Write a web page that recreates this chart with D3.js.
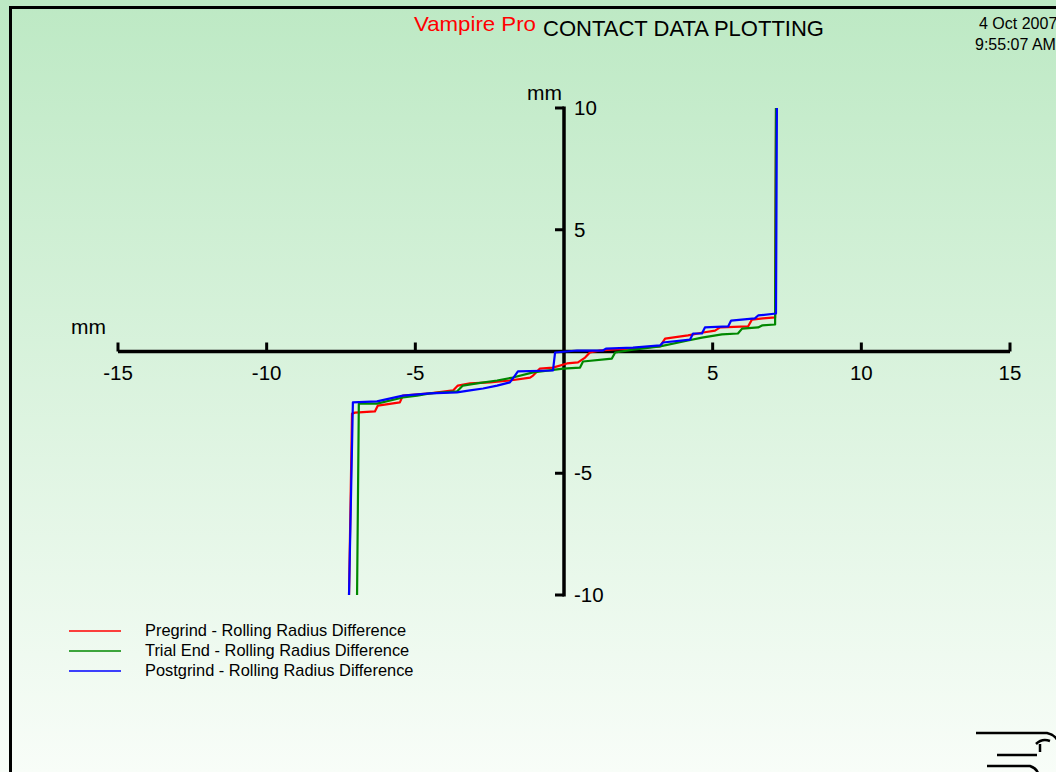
<!DOCTYPE html>
<html>
<head>
<meta charset="utf-8">
<script src="https://cdn.jsdelivr.net/npm/d3@7"></script>
<style>
  html, body { margin: 0; padding: 0; overflow: hidden; }
  body { width: 1056px; height: 772px; }
  svg { display: block; font-family: "Liberation Sans", Arial, sans-serif; }
</style>
</head>
<body>
<svg id="chart"></svg>
<script>
// values, in mm: [lateral shift, rolling radius difference]
const pregrind = [
  [-7.23, -10], [-7.13, -2.55], [-7.03, -2.51], [-6.36, -2.46], [-6.26, -2.22],
  [-5.52, -2.09], [-5.42, -1.81], [-4.51, -1.72], [-3.73, -1.60], [-3.57, -1.40],
  [-3.16, -1.31], [-2.49, -1.27], [-1.82, -1.19], [-1.14, -1.07], [-1.04, -0.99],
  [-0.81, -0.70], [-0.37, -0.66], [0.10, -0.49], [0.47, -0.45], [0.71, -0.25],
  [0.87, -0.04], [1.21, 0.04], [2.12, 0.12], [3.23, 0.21], [3.40, 0.53],
  [4.17, 0.66], [4.68, 0.78], [5.08, 0.86], [5.25, 0.99], [6.19, 1.03],
  [6.32, 1.31], [6.69, 1.36], [7.10, 1.40], [7.13, 10]
];
const trialEnd = [
  [-6.96, -10], [-6.90, -2.14], [-6.29, -2.14], [-5.42, -1.89], [-4.94, -1.81],
  [-4.51, -1.72], [-3.60, -1.64], [-3.40, -1.40], [-2.93, -1.31], [-2.25, -1.19],
  [-1.72, -1.07], [-1.04, -0.86], [-0.03, -0.70], [0.54, -0.66], [0.64, -0.41],
  [1.61, -0.29], [1.72, -0.04], [2.32, 0.08], [3.23, 0.21], [4.17, 0.45],
  [4.64, 0.57], [5.31, 0.70], [5.85, 0.74], [5.99, 0.94], [6.53, 0.99],
  [6.66, 1.07], [7.10, 1.11], [7.13, 10]
];
const postgrind = [
  [-7.23, -10], [-7.10, -2.09], [-6.29, -2.05], [-5.42, -1.81], [-4.51, -1.72],
  [-3.60, -1.68], [-3.16, -1.60], [-2.72, -1.52], [-2.25, -1.40], [-1.82, -1.27],
  [-1.65, -0.99], [-1.55, -0.82], [-0.37, -0.78], [-0.30, -0.04], [0.44, 0.04],
  [1.31, 0.04], [1.41, 0.12], [2.32, 0.16], [3.23, 0.25], [3.33, 0.37],
  [4.24, 0.49], [4.34, 0.74], [4.64, 0.74], [4.74, 0.99], [5.52, 1.03],
  [5.62, 1.27], [6.42, 1.36], [6.53, 1.48], [7.13, 1.56], [7.16, 10]
];

const seriesNames = [
  'Pregrind - Rolling Radius Difference',
  'Trial End - Rolling Radius Difference',
  'Postgrind - Rolling Radius Difference'
];
const seriesColours = ['#ff0000', '#008800', '#0000ff'];
const xTicks = [-15, -10, -5, 5, 10, 15];
const yTicks = [-10, -5, 5, 10];

const width = 1056, height = 772;

const svg = d3.select('#chart')
  .attr('width', width)
  .attr('height', height);

// background gradient, green at the top fading to white
const defs = svg.append('defs');
const grad = defs.append('linearGradient')
  .attr('id', 'bg')
  .attr('x1', 0).attr('y1', 0).attr('x2', 0).attr('y2', 1);
grad.append('stop').attr('offset', '0%').attr('stop-color', '#bde9c4');
grad.append('stop').attr('offset', '100%').attr('stop-color', '#f8fdf8');

svg.append('rect')
  .attr('width', width).attr('height', height)
  .attr('fill', 'url(#bg)');

// page frame (runs off the right and bottom)
svg.append('rect')
  .attr('x', 10.5).attr('y', 7.5)
  .attr('width', 1100).attr('height', 900)
  .attr('fill', 'none')
  .attr('stroke', '#000')
  .attr('stroke-width', 3);

// title
svg.append('text')
  .attr('x', 414).attr('y', 31)
  .attr('font-size', 21)
  .attr('fill', '#ff0000')
  .attr('textLength', 122)
  .attr('lengthAdjust', 'spacingAndGlyphs')
  .text('Vampire Pro');
svg.append('text')
  .attr('x', 543).attr('y', 36)
  .attr('font-size', 22)
  .attr('fill', '#000')
  .attr('textLength', 281)
  .attr('lengthAdjust', 'spacingAndGlyphs')
  .text('CONTACT DATA PLOTTING');

// date stamp, cut by the right edge
svg.append('text')
  .attr('x', 979).attr('y', 29)
  .attr('font-size', 16)
  .text('4 Oct 2007');
svg.append('text')
  .attr('x', 975).attr('y', 50)
  .attr('font-size', 16)
  .text('9:55:07 AM');

// scales
const x = d3.scaleLinear().domain([-15, 15]).range([118, 1010]);
const y = d3.scaleLinear().domain([-10, 10]).range([595, 108]);

const axes = svg.append('g').attr('class', 'axes');

// x axis line
axes.append('line')
  .attr('x1', x(-15)).attr('x2', x(15))
  .attr('y1', y(0)).attr('y2', y(0))
  .attr('stroke', '#000').attr('stroke-width', 3.5);

// y axis line
axes.append('line')
  .attr('x1', x(0)).attr('x2', x(0))
  .attr('y1', y(-10) + 1.5).attr('y2', y(10) - 1.5)
  .attr('stroke', '#000').attr('stroke-width', 3.5);

// x ticks point upward, labels below
axes.selectAll('.xtick')
  .data(xTicks)
  .join('line')
  .attr('class', 'xtick')
  .attr('x1', (d) => x(d)).attr('x2', (d) => x(d))
  .attr('y1', y(0)).attr('y2', y(0) - 9)
  .attr('stroke', '#000').attr('stroke-width', 3);

axes.selectAll('.xlabel')
  .data(xTicks)
  .join('text')
  .attr('class', 'xlabel')
  .attr('x', (d) => x(d))
  .attr('y', y(0) + 28)
  .attr('text-anchor', 'middle')
  .attr('font-size', 20.5)
  .text((d) => d);

// y ticks point left, labels to the right
axes.selectAll('.ytick')
  .data(yTicks)
  .join('line')
  .attr('class', 'ytick')
  .attr('x1', x(0)).attr('x2', x(0) - 9)
  .attr('y1', (d) => y(d)).attr('y2', (d) => y(d))
  .attr('stroke', '#000').attr('stroke-width', 3);

axes.selectAll('.ylabel')
  .data(yTicks)
  .join('text')
  .attr('class', 'ylabel')
  .attr('x', x(0) + 10)
  .attr('y', (d) => y(d) + 7)
  .attr('font-size', 20.5)
  .text((d) => d);

// unit labels
axes.append('text')
  .attr('x', 71).attr('y', 334)
  .attr('font-size', 21)
  .text('mm');
axes.append('text')
  .attr('x', 562).attr('y', 100)
  .attr('text-anchor', 'end')
  .attr('font-size', 21)
  .text('mm');

// data lines
const line = d3.line()
  .x((d) => x(d[0]))
  .y((d) => y(d[1]));

const allSeries = [pregrind, trialEnd, postgrind];

svg.append('g')
  .selectAll('path')
  .data(allSeries)
  .join('path')
  .attr('d', line)
  .attr('fill', 'none')
  .attr('stroke', (d, i) => seriesColours[i])
  .attr('stroke-width', 2.2)
  .attr('stroke-linejoin', 'round');

// legend
const legend = svg.append('g').attr('class', 'legend');
const legendRows = legend.selectAll('g')
  .data(seriesNames)
  .join('g')
  .attr('transform', (d, i) => `translate(0,${631 + i * 20})`);

legendRows.append('line')
  .attr('x1', 69).attr('x2', 121)
  .attr('stroke', (d, i) => seriesColours[i])
  .attr('stroke-width', 1.6);

legendRows.append('text')
  .attr('x', 145).attr('y', 5)
  .attr('font-size', 16.4)
  .text((d) => d);

// company logo fragment in the lower right corner
const logo = svg.append('g')
  .attr('fill', 'none')
  .attr('stroke', '#000')
  .attr('stroke-width', 2.5);
logo.append('path').attr('d', 'M976,733 H1047 Q1056,735 1058,742');
logo.append('path').attr('d', 'M997,755 H1037');
logo.append('path').attr('d', 'M1036,744 Q1042,738 1050,741 M1040,744 V752');
logo.append('path').attr('d', 'M987,766 H1030 Q1036,768 1038,773');
</script>
</body>
</html>
